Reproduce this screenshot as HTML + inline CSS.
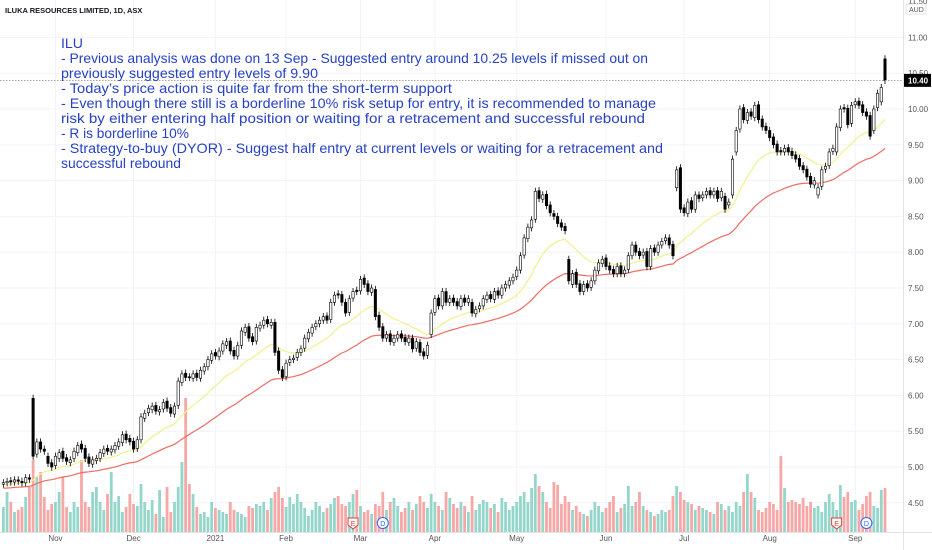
<!DOCTYPE html>
<html><head><meta charset="utf-8"><style>
html,body{margin:0;padding:0;background:#fff;}
svg{display:block;font-family:"Liberation Sans",sans-serif;}
</style></head><body>
<svg id="chart" width="932" height="550" viewBox="0 0 932 550" xmlns="http://www.w3.org/2000/svg">
<g id="grid"></g>
<g id="vol"></g>
<g id="ma"></g>
<g id="candles"></g>
<g id="axes"></g>
<text x="5" y="13" font-size="7.5" font-weight="bold" fill="#131722">ILUKA RESOURCES LIMITED, 1D, ASX</text>
<g fill="#2741c4" font-size="14">
<text x="61" y="48" textLength="22" lengthAdjust="spacingAndGlyphs">ILU</text>
<text x="61" y="63" textLength="587" lengthAdjust="spacingAndGlyphs">- Previous analysis was done on 13 Sep - Suggested entry around 10.25 levels if missed out on</text>
<text x="61" y="78" textLength="257" lengthAdjust="spacingAndGlyphs">previously suggested entry levels of 9.90</text>
<text x="61" y="93" textLength="391" lengthAdjust="spacingAndGlyphs">- Today’s price action is quite far from the short-term support</text>
<text x="61" y="108" textLength="595" lengthAdjust="spacingAndGlyphs">- Even though there still is a borderline 10% risk setup for entry, it is recommended to manage</text>
<text x="61" y="123" textLength="584" lengthAdjust="spacingAndGlyphs">risk by either entering half position or waiting for a retracement and successful rebound</text>
<text x="61" y="138" textLength="128" lengthAdjust="spacingAndGlyphs">- R is borderline 10%</text>
<text x="61" y="153" textLength="602" lengthAdjust="spacingAndGlyphs">- Strategy-to-buy (DYOR) - Suggest half entry at current levels or waiting for a retracement and</text>
<text x="61" y="168" textLength="120" lengthAdjust="spacingAndGlyphs">successful rebound</text>
</g>
</svg>
<script>
const closes=[4.78,4.80,4.79,4.82,4.80,4.78,4.85,4.83,5.15,5.35,
5.25,5.22,5.05,5.00,5.15,5.20,5.12,5.08,5.10,5.22,
5.30,5.25,5.12,5.05,5.10,5.12,5.20,5.25,5.22,5.25,
5.30,5.35,5.45,5.38,5.35,5.25,5.38,5.70,5.75,5.82,
5.85,5.78,5.80,5.90,5.82,5.75,5.85,6.20,6.30,6.25,
6.25,6.30,6.25,6.35,6.40,6.50,6.58,6.55,6.62,6.72,
6.75,6.62,6.55,6.70,6.90,6.95,6.80,6.75,6.95,6.98,
7.05,7.00,7.02,6.60,6.35,6.25,6.45,6.50,6.52,6.60,
6.65,6.80,6.88,6.95,7.00,7.05,7.10,7.05,7.30,7.40,
7.40,7.30,7.15,7.35,7.45,7.45,7.62,7.55,7.45,7.50,
7.10,6.95,6.80,6.85,6.75,6.80,6.85,6.80,6.75,6.80,
6.65,6.75,6.60,6.55,6.70,7.15,7.35,7.25,7.45,7.30,
7.35,7.30,7.25,7.35,7.30,7.35,7.15,7.20,7.25,7.35,
7.40,7.35,7.45,7.40,7.50,7.55,7.60,7.65,7.75,7.95,
8.20,8.35,8.45,8.85,8.75,8.80,8.65,8.55,8.50,8.40,
8.35,8.30,7.60,7.70,7.55,7.45,7.55,7.50,7.60,7.75,
7.85,7.90,7.80,7.75,7.70,7.80,7.70,7.75,7.95,8.10,
8.00,7.95,8.00,7.80,8.05,8.00,8.10,8.15,8.20,8.10,
7.95,9.15,8.60,8.55,8.70,8.60,8.80,8.75,8.80,8.85,
8.80,8.85,8.75,8.85,8.60,8.70,9.30,9.70,10.00,9.85,
9.95,9.90,10.05,9.85,9.75,9.70,9.60,9.50,9.40,9.40,
9.45,9.40,9.35,9.30,9.20,9.15,9.05,8.95,9.00,8.90,
9.15,9.20,9.40,9.45,9.75,10.00,10.00,9.78,10.05,10.10,
10.05,9.95,9.90,9.62,10.00,10.22,10.30,10.40];
const opens=[4.76,4.78,4.81,4.79,4.82,4.80,4.78,4.85,5.96,5.18,
5.35,5.25,5.15,5.06,5.02,5.12,5.22,5.13,5.06,5.12,
5.20,5.32,5.26,5.14,5.04,5.09,5.12,5.19,5.26,5.21,
5.24,5.29,5.34,5.46,5.40,5.36,5.26,5.38,5.68,5.76,
5.80,5.86,5.77,5.81,5.92,5.83,5.74,5.86,6.18,6.31,
6.26,6.24,6.31,6.24,6.34,6.40,6.49,6.60,6.54,6.62,
6.70,6.76,6.63,6.55,6.70,6.88,6.96,6.82,6.76,6.94,
6.98,7.06,6.98,7.02,6.62,6.36,6.26,6.46,6.50,6.53,
6.60,6.66,6.79,6.87,6.96,7.00,7.05,7.11,7.06,7.30,
7.42,7.41,7.30,7.16,7.36,7.47,7.46,7.64,7.56,7.44,
7.48,7.12,6.96,6.80,6.86,6.74,6.80,6.86,6.81,6.74,
6.80,6.66,6.74,6.61,6.56,6.85,7.16,7.36,7.25,7.45,
7.30,7.36,7.31,7.24,7.36,7.30,7.30,7.14,7.21,7.25,
7.34,7.41,7.34,7.46,7.40,7.50,7.54,7.60,7.66,7.75,
7.96,8.19,8.34,8.46,8.86,8.74,8.81,8.66,8.54,8.50,
8.41,8.36,7.90,7.55,7.72,7.56,7.45,7.56,7.51,7.60,
7.74,7.84,7.92,7.81,7.76,7.70,7.81,7.70,7.76,7.95,
8.10,8.01,7.96,8.01,7.80,8.06,8.00,8.10,8.16,8.20,
8.11,8.90,9.18,8.62,8.54,8.72,8.60,8.80,8.76,8.80,
8.86,8.80,8.86,8.76,8.78,8.66,8.80,9.40,9.72,10.02,
9.84,9.96,9.88,10.06,9.86,9.76,9.70,9.61,9.51,9.42,
9.40,9.46,9.41,9.36,9.31,9.21,9.16,9.06,8.94,8.80,
8.92,9.16,9.21,9.41,9.40,9.74,10.02,10.01,9.80,10.06,
10.11,10.06,9.96,9.91,9.70,10.02,10.10,10.70];
const volumes=[25,40,30,20,22,25,35,45,72,55,
60,35,22,28,30,40,55,25,20,30,
25,72,30,25,40,45,30,22,38,60,
30,36,20,25,38,28,26,48,30,22,
32,18,42,15,45,20,30,45,70,134,
48,38,25,18,20,15,30,24,22,20,
18,30,22,20,18,15,26,24,28,26,
30,22,34,40,45,34,25,35,28,38,
30,24,16,22,30,26,20,24,28,34,
36,28,26,30,38,42,26,20,22,18,
28,26,40,22,30,34,26,20,24,30,
22,28,36,30,24,38,30,26,22,40,
34,28,24,30,26,20,36,22,28,32,
30,24,28,20,34,30,22,26,30,36,
40,30,44,58,46,40,30,24,50,47,
28,36,30,22,26,20,18,16,22,30,
26,20,24,30,36,20,24,28,46,26,
30,40,26,22,20,16,18,22,20,22,
36,46,40,32,30,28,22,26,24,22,
20,18,30,28,22,26,20,30,26,40,
58,40,34,22,20,24,30,28,22,76,
44,30,32,30,28,34,26,30,24,26,
20,30,38,30,22,47,35,40,30,32,
22,28,36,40,26,24,42,44];
const monthLabels=["Nov","Dec","2021","Feb","Mar","Apr","May","Jun","Jul","Aug","Sep"];
const monthIdx=[14,35,57,76,96,116,138,162,183,206,229];
const priceTicks=[4.5,5,5.5,6,6.5,7,7.5,8,8.5,9,9.5,10,10.5,11];
const events=[["E",94],["D",102],["E",224],["D",232]];

const NS="http://www.w3.org/2000/svg";
const N=closes.length, STEP=3.72, LASTX=885;
function xOf(i){return LASTX-(N-1-i)*STEP;}
function yP(p){return 467-(p-5)*71.6;}
function yV(v){return 532-v*134/134;}
function mk(tag,attrs,parent){const e=document.createElementNS(NS,tag);for(const k in attrs)e.setAttribute(k,attrs[k]);parent.appendChild(e);return e;}
const grid=document.getElementById('grid'),vol=document.getElementById('vol'),ma=document.getElementById('ma'),cg=document.getElementById('candles'),axes=document.getElementById('axes');

// grid
priceTicks.forEach(p=>{const l=mk('line',{x1:0,x2:903,y1:yP(p),y2:yP(p),stroke:'#f0f3fa','stroke-width':1},grid);

});
monthIdx.forEach(i=>{const l=mk('line',{x1:xOf(i),x2:xOf(i),y1:0,y2:532,stroke:'#f0f3fa','stroke-width':1},grid);

});

// volume
for(let i=0;i<N;i++){const up=closes[i]>=opens[i];
const r=mk('rect',{x:xOf(i)-1.4,y:yV(volumes[i]),width:2.8,height:532-yV(volumes[i]),fill:up?'#95d6cb':'#f5a8a6'},vol);

}

// moving averages (EMA)
function ema(arr,n,seed){const k=2/(n+1);let v=seed;return arr.map(c=>{v=c*k+v*(1-k);return v;});}
const ema20=ema(closes,20,4.75), ema50=ema(closes,50,4.70);
function path(a){return a.map((v,i)=>(i?'L':'M')+xOf(i).toFixed(1)+','+yP(v).toFixed(1)).join('');}
const p1=mk('path',{d:path(ema50),fill:'none',stroke:'#ef6b63','stroke-width':1.2},ma);


const p2=mk('path',{d:path(ema20),fill:'none',stroke:'#f2f08c','stroke-width':1.2},ma);



// candles
for(let i=0;i<N;i++){const o=opens[i],c=closes[i],up=c>=o,x=xOf(i);
const hi=Math.max(o,c)+0.05,lo=Math.min(o,c)-0.05;
const w=mk('line',{x1:x,x2:x,y1:yP(hi),y2:yP(lo),stroke:'#000','stroke-width':0.8},cg);


const top=yP(Math.max(o,c)),h=Math.max(1,Math.abs(yP(o)-yP(c)));
const b=mk('rect',{x:x-1.2,y:top,width:2.4,height:h,fill:up?'#fff':'#000',stroke:'#000','stroke-width':0.6},cg);

}

// current price line
const last=closes[N-1];
const pl=mk('line',{x1:0,x2:903,y1:yP(last),y2:yP(last),stroke:'#888','stroke-width':0.7,'stroke-dasharray':'1.5,1.5'},axes);



// axes
const sep=mk('line',{x1:903.5,x2:903.5,y1:0,y2:550,stroke:'#e0e3eb'},axes);


const sep2=mk('line',{x1:0,x2:932,y1:532.5,y2:532.5,stroke:'#e0e3eb'},axes);


priceTicks.forEach(p=>{const t=mk('text',{x:908,y:yP(p)+3,'font-size':8,fill:'#555'},axes);t.textContent=p.toFixed(2);

});
const t115=mk('text',{x:908,y:4,'font-size':8,fill:'#555'},axes);t115.textContent='11.50';


const aud=mk('rect',{x:906,y:4,width:20,height:10,fill:'#fff',stroke:'#ccc','stroke-width':0.6,rx:1},axes);


const audt=mk('text',{x:909,y:12,'font-size':7,fill:'#555'},axes);audt.textContent='AUD';


const pb=mk('rect',{x:904,y:yP(last)-6.5,width:27,height:13,fill:'#000'},axes);


const pt=mk('text',{x:908,y:yP(last)+3,'font-size':8,fill:'#fff','font-weight':'bold'},axes);pt.textContent=last.toFixed(2);


monthLabels.forEach((m,k)=>{const t=mk('text',{x:xOf(monthIdx[k]),y:541,'font-size':8,fill:'#555','text-anchor':'middle'},axes);t.textContent=m;

});

// events
events.forEach(([lab,i])=>{const x=xOf(i),col=lab==='E'?'#e53935':'#2962ff';
let s;
if(lab==='E'){s=mk('path',{d:`M${x-5},518 h10 v7 l-5,4 l-5,-4 z`,fill:'#fff',stroke:col,'stroke-width':1},axes);}
else{s=mk('circle',{cx:x,cy:523,r:5.5,fill:'#fff',stroke:col,'stroke-width':1},axes);}


const t=mk('text',{x:x,y:526,'font-size':7,fill:col,'text-anchor':'middle'},axes);t.textContent=lab;

});
</script>
</body></html>
